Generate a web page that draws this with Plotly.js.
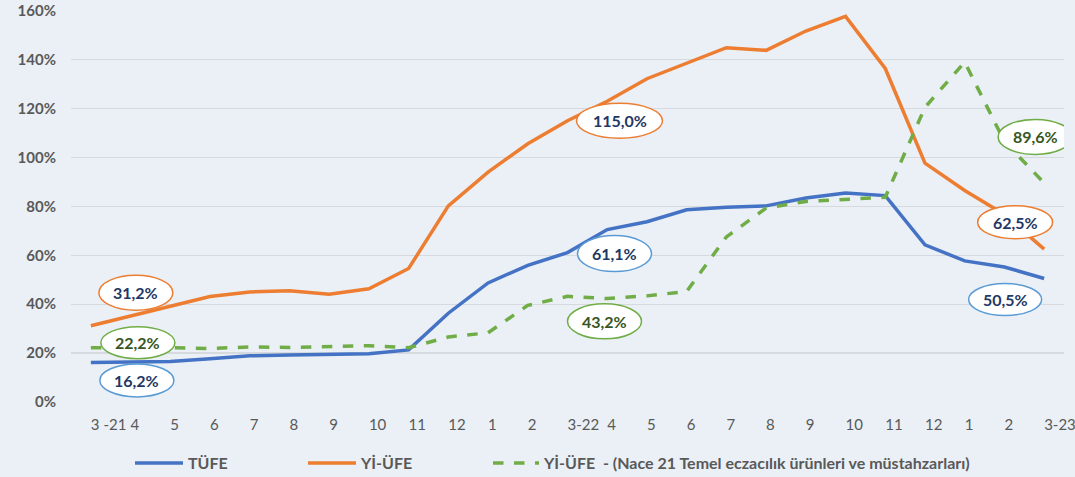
<!DOCTYPE html>
<html>
<head>
<meta charset="utf-8">
<script src="https://cdn.plot.ly/plotly-3.0.1.min.js"></script>
<style>
html,body{margin:0;padding:0;background:#eaf0f6;}
#chart{width:1075px;height:477px;}
</style>
</head>
<body>
<div id="chart"></div>
<script>
var tickLabels = ["3 -21","4","5","6","7","8","9","10","11","12","1","2","3-22","4","5","6","7","8","9","10","11","12","1","2","3-23"];
var tufe  = [16.2,16.5,16.6,17.7,18.9,19.2,19.6,19.7,21.3,36.3,48.7,55.9,61.1,70.5,73.7,78.6,79.6,80.2,83.4,85.5,84.4,64.3,57.7,55.2,50.5];
var yiufe = [31.2,35.2,38.9,43.1,45.0,45.5,44.1,46.3,54.6,80.2,94.0,105.6,115.0,123.0,132.2,138.6,144.9,143.8,151.7,157.7,136.4,97.7,86.5,76.7,62.5];
var nace  = [22.2,22.3,22.2,21.9,22.5,22.3,22.6,23.0,22.2,26.6,28.3,39.5,43.2,42.3,43.4,45.2,67.5,79.3,82.0,82.8,83.7,120.5,139.0,106.5,89.6];
var seriesNames = ["TÜFE","Yİ-ÜFE","Yİ-ÜFE  - (Nace 21 Temel eczacılık ürünleri ve müstahzarları)"];
var yTickVals = [0,20,40,60,80,100,120,140,160];
var yTickText = ['0%','20%','40%','60%','80%','100%','120%','140%','160%'];

var xs = tickLabels.map(function(_, i){ return i; });
var fontFam = "Lato, 'Open Sans', sans-serif";

var traces = [
  {x: xs, y: tufe, name: seriesNames[0], type: 'scatter', mode: 'lines',
   line: {color: '#4472c4', width: 3.5}, legend: 'legend'},
  {x: xs, y: yiufe, name: seriesNames[1], type: 'scatter', mode: 'lines',
   line: {color: '#ed7d31', width: 3.5}, legend: 'legend'},
  {x: xs, y: nace, name: seriesNames[2], type: 'scatter', mode: 'lines',
   line: {color: '#70ad47', width: 3.5, dash: 'dash'}, legend: 'legend2'}
];

var seriesData = [tufe, yiufe, nace];
var callouts = [
  {s:1, i:0,  dx:45,  dy:-33, border:'#ed7d31', col:'#1f3864', w:74, h:35},
  {s:2, i:0,  dx:47,  dy:-5,  border:'#70ad47', col:'#375623', w:74, h:32},
  {s:0, i:0,  dx:46,  dy:18,  border:'#5b9bd5', col:'#1f3864', w:74, h:33},
  {s:1, i:12, dx:52,  dy:0,   border:'#ed7d31', col:'#1f3864', w:86, h:35},
  {s:0, i:12, dx:47,  dy:1,   border:'#5b9bd5', col:'#1f3864', w:74, h:36},
  {s:2, i:12, dx:37,  dy:25,  border:'#70ad47', col:'#375623', w:74, h:35},
  {s:2, i:24, dx:-9,  dy:-46, border:'#70ad47', col:'#375623', w:74, h:35},
  {s:1, i:24, dx:-29, dy:-27, border:'#ed7d31', col:'#1f3864', w:75, h:33},
  {s:0, i:24, dx:-39, dy:21,  border:'#5b9bd5', col:'#1f3864', w:73, h:32}
];

var shapes = [], annotations = [];
callouts.forEach(function(c){
  var v = seriesData[c.s][c.i];
  shapes.push({type:'circle', xref:'x', yref:'y', xsizemode:'pixel', ysizemode:'pixel',
    xanchor: xs[c.i], yanchor: v,
    x0: c.dx - c.w/2, x1: c.dx + c.w/2, y0: -c.dy - c.h/2, y1: -c.dy + c.h/2,
    fillcolor:'#ffffff', line:{color:c.border, width:1.5}, layer:'above'});
  annotations.push({x: xs[c.i], y: v, xref:'x', yref:'y', showarrow:false,
    xshift: c.dx, yshift: -c.dy,
    text: '<b>' + v.toFixed(1).replace('.', ',') + '%</b>',
    font:{family:fontFam, size:16, color:c.col}});
});

var legendFont = {family: fontFam, size: 16, color: '#595959', weight: 'bold'};
var layout = {
  width: 1075, height: 477,
  margin: {l: 71, r: 11, t: 10, b: 75},
  paper_bgcolor: '#eaf0f6',
  plot_bgcolor: 'rgba(0,0,0,0)',
  font: {family: fontFam, color: '#595959', size: 14},
  showlegend: true,
  legend: {orientation: 'h', xref: 'container', yref: 'container',
    x: 130/1075, xanchor: 'left', y: 14/477, yanchor: 'middle',
    font: legendFont, bgcolor: 'rgba(0,0,0,0)',
    entrywidth: 110, itemwidth: 48, traceorder: 'normal'},
  legend2: {orientation: 'h', xref: 'container', yref: 'container',
    x: 488/1075, xanchor: 'left', y: 14/477, yanchor: 'middle',
    font: legendFont, bgcolor: 'rgba(0,0,0,0)', itemwidth: 46},
  xaxis: {
    range: [-0.5, tickLabels.length - 0.5],
    tickmode: 'array', tickvals: xs, ticktext: tickLabels,
    ticklabelposition: 'outside right', ticklabeloverflow: 'allow',
    showgrid: false, zeroline: false, showline: false, ticks: '',
    ticklabelstandoff: 12,
    tickfont: {family: fontFam, size: 15, color: '#595959'},
    fixedrange: true
  },
  yaxis: {
    range: [0, 160.3], tickmode: 'array', tickvals: yTickVals, ticktext: yTickText,
    showgrid: true, gridcolor: '#d6d9dd', gridwidth: 1.3,
    zeroline: false, showline: false, ticks: '',
    ticklabelstandoff: 14, ticklabeloverflow: 'allow',
    tickfont: {family: fontFam, size: 15, color: '#595959', weight: 'bold'},
    fixedrange: true
  },
  shapes: shapes,
  annotations: annotations
};

Plotly.newPlot('chart', traces, layout, {displayModeBar: false, staticPlot: true});
</script>
</body>
</html>
